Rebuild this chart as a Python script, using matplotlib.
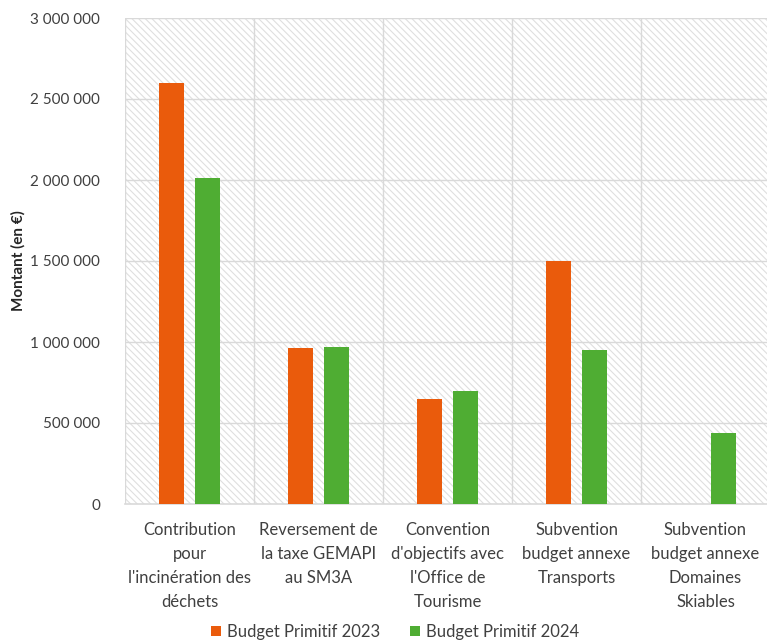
import matplotlib.pyplot as plt
import matplotlib.ticker as mticker
import numpy as np
from matplotlib.patches import Rectangle

plt.rcParams['font.family'] = ['Lato', 'DejaVu Sans']

categories = [
    "Contribution\npour\nl'incinération des\ndéchets",
    "Reversement de\nla taxe GEMAPI\nau SM3A",
    "Convention\nd'objectifs avec\nl'Office de\nTourisme",
    "Subvention\nbudget annexe\nTransports",
    "Subvention\nbudget annexe\nDomaines\nSkiables",
]
bp_2023 = [2600000, 960000, 650000, 1500000, 0]
bp_2024 = [2015000, 970000, 695000, 950000, 440000]
series_names = ["Budget Primitif 2023", "Budget Primitif 2024"]
yticks = np.arange(0, 3000001, 500000)

orange = '#EA5B0C'
green = '#4FAD33'
grid_c = '#D9D9D9'

fig = plt.figure(figsize=(7.67, 6.42), dpi=100)
ax = fig.add_axes([125 / 767, 1 - 504 / 642, 645 / 767, 486 / 642])

# hatched plot area background
plt.rcParams['hatch.linewidth'] = 0.8
ax.add_patch(Rectangle((0, 0), 1, 1, transform=ax.transAxes, facecolor='white',
                       edgecolor='#DFDFDF', hatch='\\\\\\\\\\', lw=0, zorder=0))

x = np.arange(len(categories))
w = 0.195
off = 0.14
ax.bar(x - off, bp_2023, w, color=orange, label=series_names[0], zorder=3)
ax.bar(x + off, bp_2024, w, color=green, label=series_names[1], zorder=3)

ax.set_xlim(-0.5, len(categories) - 0.5)
ax.set_ylim(0, 3000000)
ax.set_yticks(yticks)
ax.yaxis.set_major_formatter(mticker.FuncFormatter(lambda v, p: f"{int(v):,}".replace(",", " ")))

for y in yticks[1:]:
    ax.axhline(y, color=grid_c, lw=1, zorder=1)
for b in np.arange(-0.5, len(categories), 1.0):
    ax.axvline(b, color=grid_c, lw=1, zorder=1)

for s in ['top', 'right', 'left']:
    ax.spines[s].set_visible(False)
ax.spines['bottom'].set_color(grid_c)
ax.spines['bottom'].set_linewidth(1.2)

ax.set_xticks(x)
ax.set_xticklabels(categories, fontsize=12, color='#404040', linespacing=1.62, va='top')
ax.tick_params(axis='x', length=0, pad=13)
ax.tick_params(axis='y', length=0, pad=18, labelsize=11, labelcolor='#404040')

ax.set_ylabel("Montant (en €)", fontsize=11, fontweight='bold', color='#262626', labelpad=3)

fig.legend(loc='lower center', bbox_to_anchor=(395 / 767, -0.02), ncol=2, frameon=False,
           fontsize=12, handlelength=0.6, handleheight=0.6, handletextpad=0.35,
           columnspacing=1.8, labelcolor='#404040')

fig.savefig('out.png', dpi=100)
